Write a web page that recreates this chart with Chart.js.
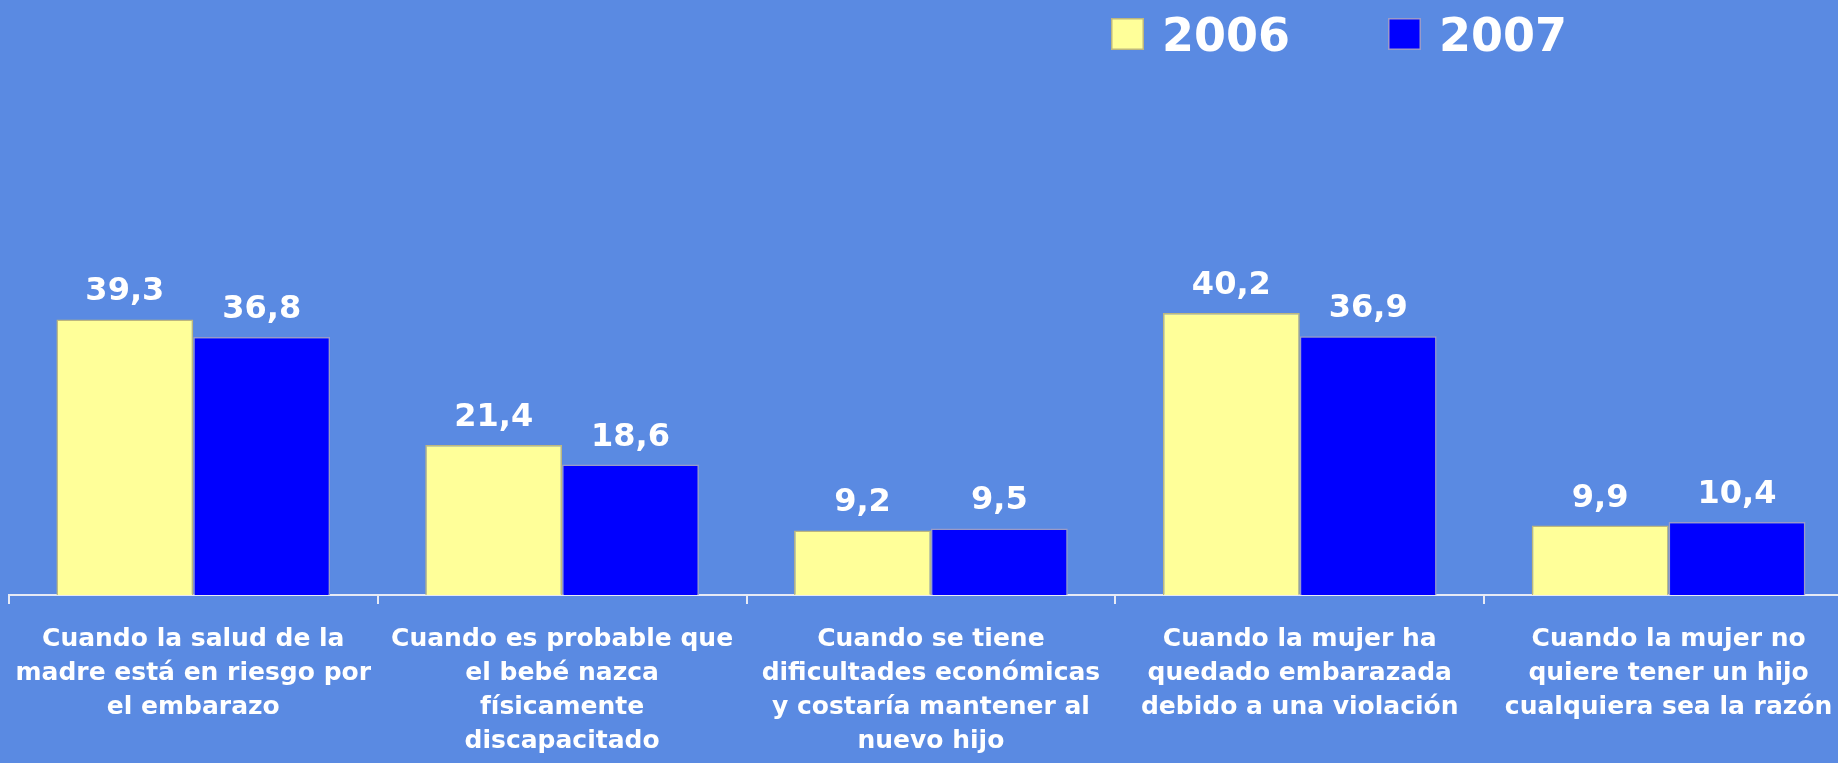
<!DOCTYPE html>
<html>
<head>
<meta charset="utf-8">
<script src="https://cdn.jsdelivr.net/npm/chart.js"></script>
<style>
  html, body { margin: 0; padding: 0; background: #5A8AE2; overflow: hidden; }
  #wrap { width: 1863px; height: 777px; margin-left: -3px; }
</style>
</head>
<body>
<div id="wrap"><canvas id="chart"></canvas></div>
<script>
// Data
const categories = [
  ["Cuando la salud de la", "madre está en riesgo por", "el embarazo"],
  ["Cuando es probable que", "el bebé nazca", "físicamente", "discapacitado"],
  ["Cuando se tiene", "dificultades económicas", "y costaría mantener al", "nuevo hijo"],
  ["Cuando la mujer ha", "quedado embarazada", "debido a una violación"],
  ["Cuando la mujer no", "quiere tener un hijo", "cualquiera sea la razón"]
];
const seriesNames = ["2006", "2007"];
const values2006 = [39.3, 21.4, 9.2, 40.2, 9.9];
const values2007 = [36.8, 18.6, 9.5, 36.9, 10.4];

const FONT = "'DejaVu Sans', Verdana, sans-serif";

// Value labels above bars, comma decimal
const valueLabels = {
  id: "valueLabels",
  afterDatasetsDraw(chart) {
    const ctx = chart.ctx;
    ctx.save();
    ctx.font = "bold 32px " + FONT;
    ctx.fillStyle = "#ffffff";
    ctx.textAlign = "center";
    ctx.textBaseline = "alphabetic";
    chart.data.datasets.forEach((ds, i) => {
      chart.getDatasetMeta(i).data.forEach((bar, j) => {
        const txt = ds.data[j].toFixed(1).replace(".", ",");
        ctx.fillText(txt, bar.x, bar.y - 19);
      });
    });
    ctx.restore();
  }
};

// Legend in the top right (canvas is shifted 3px left)
const topLegend = {
  id: "topLegend",
  afterDraw(chart) {
    const ctx = chart.ctx;
    const starts = [1114, 1391];
    ctx.save();
    ctx.font = "bold 46px " + FONT;
    ctx.textBaseline = "alphabetic";
    ctx.textAlign = "left";
    chart.data.datasets.forEach((ds, i) => {
      const x = starts[i];
      ctx.fillStyle = ds.backgroundColor;
      ctx.fillRect(x, 18, 33, 32);
      ctx.strokeStyle = ds.borderColor;
      ctx.lineWidth = 1.5;
      ctx.strokeRect(x + 0.75, 18.75, 31.5, 30.5);
      ctx.fillStyle = "#ffffff";
      ctx.fillText(ds.label, x + 51, 51);
    });
    ctx.restore();
  }
};

new Chart(document.getElementById("chart"), {
  type: "bar",
  data: {
    labels: categories,
    datasets: [
      {
        label: seriesNames[0],
        data: values2006,
        backgroundColor: "#FFFF99",
        borderColor: "#BDB77E",
        borderWidth: 1.5,
        borderSkipped: "bottom"
      },
      {
        label: seriesNames[1],
        data: values2007,
        backgroundColor: "#0000FF",
        borderColor: "#9A9AC8",
        borderWidth: 1.5,
        borderSkipped: "bottom"
      }
    ]
  },
  options: {
    responsive: true,
    maintainAspectRatio: false,
    animation: false,
    layout: { padding: { top: 34, left: 5, right: 7, bottom: 0 } },
    datasets: { bar: { categoryPercentage: 0.742, barPercentage: 1.0 } },
    plugins: {
      legend: { display: false },
      tooltip: { enabled: false }
    },
    scales: {
      x: {
        offset: true,
        border: { display: true, color: "#E6EAF5", width: 2 },
        grid: {
          offset: true,
          drawOnChartArea: false,
          drawTicks: true,
          tickLength: 9,
          color: "#E6EAF5",
          lineWidth: 2
        },
        ticks: {
          color: "#ffffff",
          padding: 18,
          maxRotation: 0,
          autoSkip: false,
          font: { family: FONT, size: 25, weight: "bold", lineHeight: 1.37 }
        }
      },
      y: {
        display: false,
        min: 0,
        max: 80
      }
    }
  },
  plugins: [valueLabels, topLegend]
});
</script>
</body>
</html>
